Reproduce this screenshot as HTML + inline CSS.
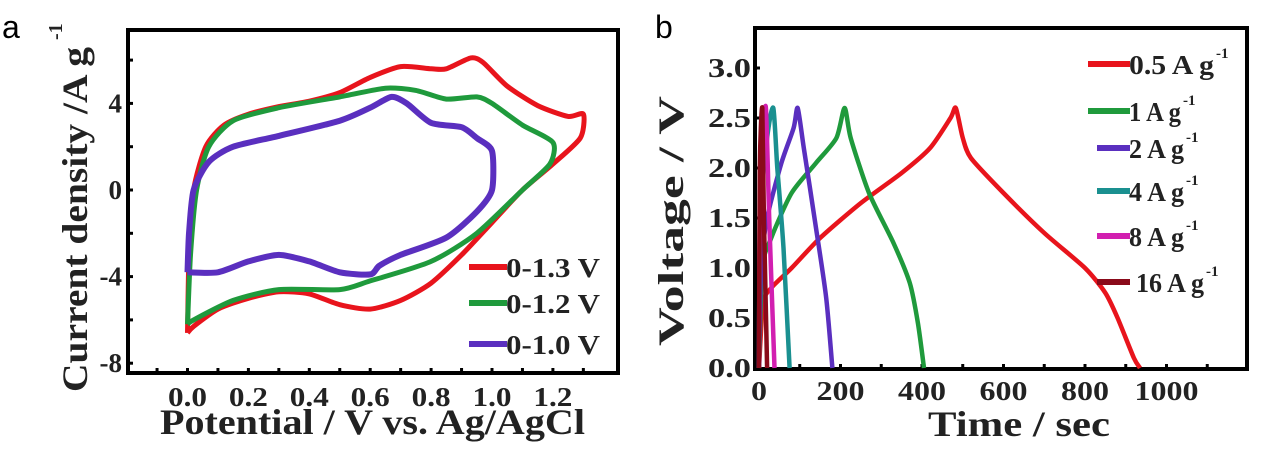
<!DOCTYPE html>
<html><head><meta charset="utf-8">
<style>
html,body{margin:0;padding:0;background:#fff;}
svg{display:block;}
text{font-family:"Liberation Serif",serif;font-weight:bold;fill:#222;}
.sans{font-family:"Liberation Sans",sans-serif;font-weight:normal;fill:#000;}
</style></head>
<body>
<svg id="fig" width="1270" height="456" viewBox="0 0 1270 456" xmlns="http://www.w3.org/2000/svg">
<text class="sans" x="2" y="38" font-size="32">a</text>
<text class="sans" x="655" y="38" font-size="32">b</text>
<g id="pa"></g>
<g id="pb"></g>
</svg>
<script>
// ---- Panel a data (CV) ----
const cvXTicks = [0.0,0.2,0.4,0.6,0.8,1.0,1.2];
const cvYTicks = [-8,-4,0,4];
const cvNames = ["0-1.3 V","0-1.2 V","0-1.0 V"];
const cvColors = ["#e8141c","#1f9a3c","#5a2fbf"];
const cvRed = [[0,-6.6],[0.005,-3],[0.02,0],[0.06,2],[0.12,3],[0.2,3.5],[0.3,3.85],[0.4,4.1],[0.5,4.5],[0.6,5.2],[0.7,5.7],[0.8,5.6],[0.85,5.6],[0.93,6.1],[0.97,5.9],[1.05,4.8],[1.15,3.9],[1.25,3.4],[1.3,3.5],[1.29,2.4],[1.2,1.2],[1.1,0],[1.0,-1.5],[0.9,-3],[0.8,-4.3],[0.7,-5.1],[0.6,-5.5],[0.5,-5.3],[0.4,-4.8],[0.3,-4.7],[0.2,-5.0],[0.1,-5.5],[0.02,-6.3],[0,-6.6]];
const cvGreen = [[0,-6.2],[0.01,-3],[0.03,0],[0.07,2],[0.15,3.2],[0.3,3.8],[0.5,4.3],[0.65,4.7],[0.75,4.6],[0.85,4.2],[0.95,4.3],[1.0,4.0],[1.1,3.0],[1.2,2.2],[1.19,1.2],[1.1,0],[0.95,-2],[0.8,-3.3],[0.6,-4.2],[0.5,-4.6],[0.3,-4.6],[0.15,-5.1],[0.02,-6],[0,-6.2]];
const cvPurple = [[0,-3.8],[0.005,-2],[0.02,0],[0.07,1.3],[0.15,2],[0.3,2.5],[0.5,3.2],[0.6,3.8],[0.67,4.3],[0.72,4],[0.8,3.1],[0.9,2.9],[0.95,2.4],[1.0,1.8],[1.0,0],[0.95,-1],[0.85,-2.2],[0.7,-3.0],[0.63,-3.5],[0.6,-3.9],[0.5,-3.8],[0.4,-3.3],[0.3,-3.0],[0.2,-3.3],[0.1,-3.8],[0,-3.8]];

// ---- Panel b data (GCD) ----
const gcdXTicks = [0,200,400,600,800,1000];
const gcdYTicks = [0.0,0.5,1.0,1.5,2.0,2.5,3.0];
const gcdNames = ["0.5 A g","1 A g","2 A g","4 A g","8 A g","16 A g"];
const gcdColors = ["#e8141c","#1f9a3c","#5a2fbf","#1a9090","#d21fb0","#8a0a1a"];
const gcd05 = [[0,0],[10,0.65],[30,0.8],[80,1.0],[150,1.3],[250,1.65],[350,1.95],[420,2.2],[470,2.5],[483,2.6],[500,2.3],[520,2.1],[600,1.75],[700,1.35],[800,1.0],[850,0.75],[880,0.5],[920,0.1],[935,0]];
const gcd1 = [[0,0],[8,1.0],[30,1.3],[80,1.75],[140,2.05],[190,2.3],[210,2.6],[225,2.3],[270,1.75],[330,1.25],[370,0.85],[390,0.45],[405,0]];
const gcd2 = [[0,0],[5,1],[20,1.5],[55,2.05],[85,2.4],[95,2.6],[110,2.2],[140,1.4],[165,0.7],[180,0]];
const gcd4 = [[0,0],[3,1.5],[20,2.3],[35,2.6],[45,2.0],[60,1.2],[75,0]];
const gcd8 = [[0,0],[2,1.5],[10,2.3],[17,2.6],[25,1.5],[38,0]];
const gcd16 = [[0,0],[2,2],[8,2.6],[12,1.5],[20,0]];

const NS="http://www.w3.org/2000/svg";
function mk(parent,tag,attrs,txt){const e=document.createElementNS(NS,tag);for(const k in attrs)e.setAttribute(k,attrs[k]);if(txt!==undefined)e.textContent=txt;parent.appendChild(e);return e;}
function pathD(pts,sx,sy){
  const P=pts.map(p=>[sx(p[0]),sy(p[1])]);
  let d='M'+P[0][0].toFixed(1)+','+P[0][1].toFixed(1);
  const t=0.12;
  for(let i=0;i<P.length-1;i++){
    const p0=P[Math.max(i-1,0)],p1=P[i],p2=P[i+1],p3=P[Math.min(i+2,P.length-1)];
    const c1=[p1[0]+(p2[0]-p0[0])*t,p1[1]+(p2[1]-p0[1])*t];
    const c2=[p2[0]-(p3[0]-p1[0])*t,p2[1]-(p3[1]-p1[1])*t];
    d+=' C'+c1.map(v=>v.toFixed(1)).join(',')+' '+c2.map(v=>v.toFixed(1)).join(',')+' '+p2.map(v=>v.toFixed(1)).join(',');
  }
  return d;
}
const LA='spacingAndGlyphs';

// Panel a
(function(){
const g=document.getElementById('pa');
const L=128,R=618,T=30,B=373;
const sx=v=>187.5+v*304.5, sy=v=>190-v*21.65;
const fr=mk(g,'rect',{x:L,y:T,width:R-L,height:B-T,fill:'none',stroke:'#000','stroke-width':4});


for(let i=-1;i<=13;i++){const v=i/10;const t=mk(g,'line',{x1:sx(v),x2:sx(v),y1:B,y2:B-5,stroke:'#000','stroke-width':3});

}
cvXTicks.forEach(v=>{const t=mk(g,'text',{x:sx(v),y:406,'font-size':27,'text-anchor':'middle',textLength:39,lengthAdjust:LA},v.toFixed(1));

});
cvYTicks.forEach(v=>{const l=mk(g,'line',{x1:L,x2:L+5,y1:sy(v),y2:sy(v),stroke:'#000','stroke-width':3});


const t=mk(g,'text',{x:L-6,y:sy(v)+9,'font-size':27,'text-anchor':'end'},String(v));

});
[6,2,-2,-6].forEach(v=>{const l=mk(g,'line',{x1:L,x2:L+5,y1:sy(v),y2:sy(v),stroke:'#000','stroke-width':3});

});
const xt=mk(g,'text',{x:160,y:434,'font-size':36,textLength:425,lengthAdjust:LA},'Potential / V vs. Ag/AgCl');


const yt=mk(g,'text',{transform:'translate(87,392) rotate(-90)','font-size':36,textLength:345,lengthAdjust:LA});


yt.innerHTML='Current density /A g';
const ys=mk(g,'text',{transform:'translate(62,40) rotate(-90)','font-size':20},'-1');


[cvRed,cvGreen,cvPurple].forEach((s,i)=>{const p=mk(g,'path',{d:pathD(s,sx,sy),fill:'none',stroke:cvColors[i],'stroke-width':i==2?6:5,'stroke-linejoin':'round'});

});
const ly=[267,303,344];
cvNames.forEach((n,i)=>{const l=mk(g,'line',{x1:469,x2:507,y1:ly[i],y2:ly[i],stroke:cvColors[i],'stroke-width':6});


const t=mk(g,'text',{x:506,y:ly[i]+10,'font-size':27,textLength:94,lengthAdjust:LA},n);

});
})();

// Panel b
(function(){
const g=document.getElementById('pb');
const L=755,R=1247,T=28,B=369;
const sx=v=>759+v*0.4075, sy=v=>368-v*100;
const fr=mk(g,'rect',{x:L,y:T,width:R-L,height:B-T,fill:'none',stroke:'#000','stroke-width':4});


for(let v=100;v<=1100;v+=100){const t=mk(g,'line',{x1:sx(v),x2:sx(v),y1:B,y2:B-5,stroke:'#000','stroke-width':3});

}
gcdXTicks.forEach(v=>{const s=String(v);const t=mk(g,'text',{x:sx(v),y:400,'font-size':27,'text-anchor':'middle',textLength:s.length*16,lengthAdjust:LA},s);

});
gcdYTicks.forEach(v=>{const l=mk(g,'line',{x1:L,x2:L+5,y1:sy(v),y2:sy(v),stroke:'#000','stroke-width':3});


const t=mk(g,'text',{x:L-4,y:sy(v)+9,'font-size':27,'text-anchor':'end',textLength:43,lengthAdjust:LA},v.toFixed(1));

});
const xt=mk(g,'text',{x:928,y:436,'font-size':36,textLength:182,lengthAdjust:LA},'Time  / sec');


const yt=mk(g,'text',{transform:'translate(683,346) rotate(-90)','font-size':36,textLength:250,lengthAdjust:LA},'Voltage / V');


[gcd05,gcd1,gcd2,gcd4,gcd8,gcd16].forEach((s,i)=>{const p=mk(g,'path',{d:pathD(s,sx,sy),fill:'none',stroke:gcdColors[i],'stroke-width':4.5,'stroke-linejoin':'round'});

});
const ly=[64,111,148,191,236,282];
const tw=[85,52,55,55,55,68];
gcdNames.forEach((n,i)=>{const x1=(i==0||i==1)?1088:1097;const l=mk(g,'line',{x1:x1,x2:1130,y1:ly[i],y2:ly[i],stroke:gcdColors[i],'stroke-width':6});


const tx=(i==5?1136:1129);
const t=mk(g,'text',{x:tx,y:ly[i]+10,'font-size':27,textLength:tw[i],lengthAdjust:LA},n);


const s=mk(g,'text',{x:tx+tw[i]+2,y:ly[i]-6,'font-size':15},'-1');

});
})();
</script>
</body></html>
